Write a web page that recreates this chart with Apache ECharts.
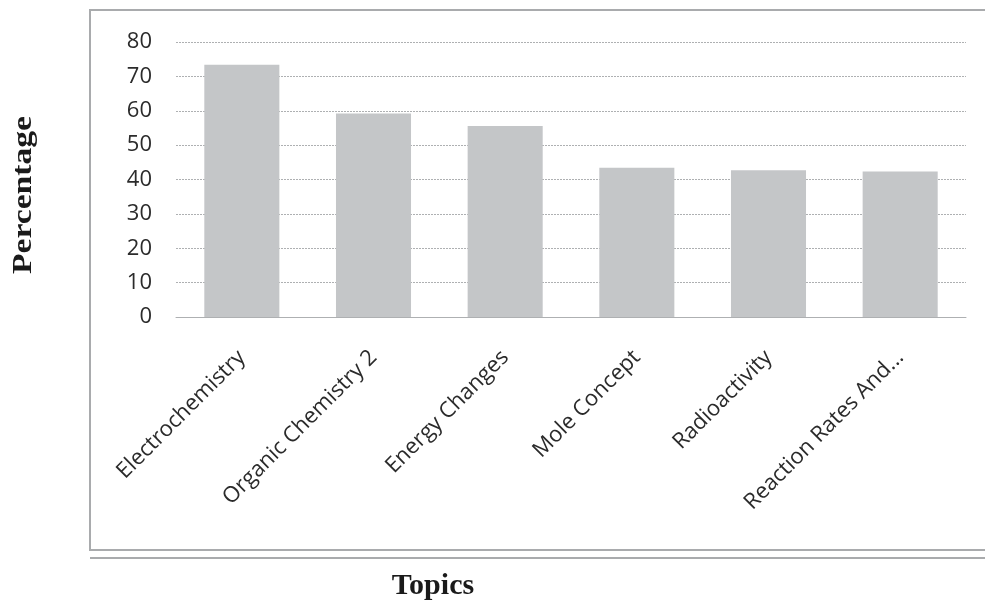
<!DOCTYPE html>
<html>
<head>
<meta charset="utf-8">
<script src="https://cdn.jsdelivr.net/npm/echarts@6/dist/echarts.min.js"></script>
<style>
    html, body { margin: 0; padding: 0; background: #ffffff; }
    #chart { width: 985px; height: 602px; }
</style>
</head>
<body>
<div id="chart"></div>
<script>
const topics = [
    'Electrochemistry',
    'Organic Chemistry 2',
    'Energy Changes',
    'Mole Concept',
    'Radioactivity',
    'Reaction Rates And...'
];
const percentages = [73.4, 59.2, 55.6, 43.4, 42.7, 42.3];
const yTicks = { min: 0, max: 80, interval: 10 };

const chart = echarts.init(document.querySelector('#chart'));
const frameColor = '#a9abad';
const gridColor = '#aeb0b2';

chart.setOption({
    animation: false,
    backgroundColor: '#ffffff',
    grid: {
        left: 176,
        right: 19,
        top: 42,
        bottom: 285
    },
    xAxis: {
        type: 'category',
        data: topics,
        axisLine: { show: true, lineStyle: { color: gridColor, width: 1 } },
        axisTick: { show: false },
        axisLabel: {
            rotate: 45,
            margin: 37,
            interval: 0,
            color: '#2b2b2b',
            fontFamily: 'Open Sans',
            fontSize: 22
        }
    },
    yAxis: {
        type: 'value',
        min: yTicks.min,
        max: yTicks.max,
        interval: yTicks.interval,
        axisLine: { show: false },
        axisTick: { show: false },
        axisLabel: {
            margin: 24,
            color: '#2b2b2b',
            fontFamily: 'Open Sans',
            fontSize: 22
        },
        splitLine: {
            lineStyle: { color: gridColor, width: 1, type: [2, 1] }
        }
    },
    series: [
        {
            type: 'bar',
            data: percentages,
            barCategoryGap: '43%',
            itemStyle: { color: '#c4c6c8' }
        }
    ],
    graphic: [
        {
            type: 'rect',
            silent: true,
            shape: { x: 90, y: 10, width: 905, height: 540 },
            style: { fill: 'none', stroke: frameColor, lineWidth: 2 }
        },
        {
            type: 'line',
            silent: true,
            shape: { x1: 90, y1: 558, x2: 985, y2: 558 },
            style: { stroke: frameColor, lineWidth: 2 }
        },
        {
            type: 'text',
            silent: true,
            x: 24,
            y: 195,
            rotation: Math.PI / 2,
            scaleX: 1.2,
            style: {
                text: 'Percentage',
                fill: '#1a1a1a',
                font: 'bold 28px "Liberation Serif"',
                align: 'center',
                verticalAlign: 'middle'
            }
        },
        {
            type: 'text',
            silent: true,
            x: 433,
            y: 586,
            style: {
                text: 'Topics',
                fill: '#1a1a1a',
                font: 'bold 30px "Liberation Serif"',
                align: 'center',
                verticalAlign: 'middle'
            }
        }
    ]
});
</script>
</body>
</html>
